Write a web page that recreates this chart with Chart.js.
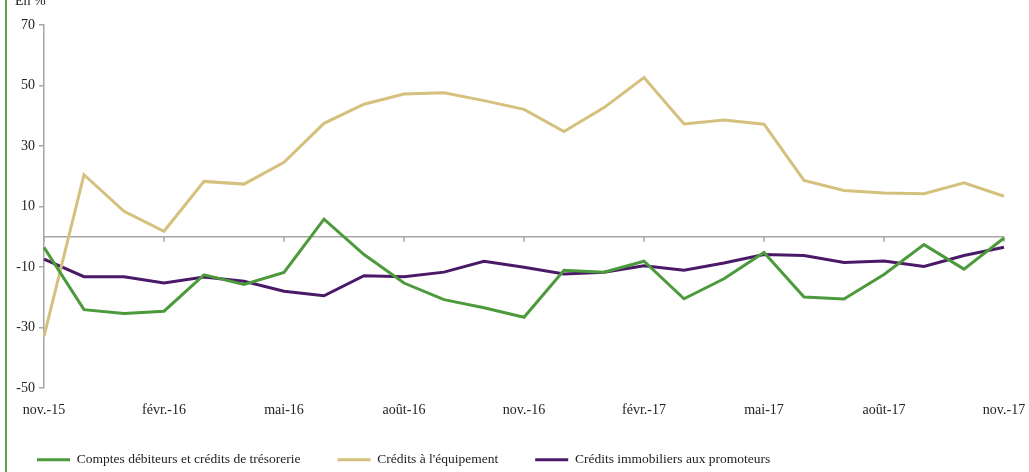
<!DOCTYPE html>
<html>
<head>
<meta charset="utf-8">
<script src="https://cdn.jsdelivr.net/npm/chart.js@4/dist/chart.umd.min.js"></script>
<style>
  html, body { margin: 0; padding: 0; background: #fff; }
  #wrap { width: 1029px; height: 472px; position: relative; }
</style>
</head>
<body>
<div id="wrap"><canvas id="lineChart" width="1029" height="472"></canvas></div>
<script>
'use strict';

var months = ['nov.-15', 'déc.-15', 'janv.-16', 'févr.-16', 'mars-16', 'avr.-16', 'mai-16', 'juin-16',
    'juil.-16', 'août-16', 'sept.-16', 'oct.-16', 'nov.-16', 'déc.-16', 'janv.-17', 'févr.-17',
    'mars-17', 'avr.-17', 'mai-17', 'juin-17', 'juil.-17', 'août-17', 'sept.-17', 'oct.-17', 'nov.-17'];

var comptesDebiteurs = [-3.5, -24.1, -25.4, -24.6, -12.6, -15.8, -11.8, 5.8, -5.9, -15.3, -20.8, -23.5, -26.6,
    -11.1, -11.7, -8.1, -20.5, -13.9, -5.2, -19.9, -20.6, -12.5, -2.6, -10.7, -0.4];

var creditsEquipement = [-32.9, 20.5, 8.4, 1.8, 18.3, 17.4, 24.6, 37.5, 43.8, 47.2, 47.6, 45.0, 42.1,
    34.8, 42.7, 52.6, 37.3, 38.6, 37.2, 18.6, 15.3, 14.5, 14.2, 17.8, 13.4];

var creditsPromoteurs = [-7.4, -13.2, -13.2, -15.3, -13.3, -14.7, -18.0, -19.5, -12.9, -13.2, -11.7, -8.1, -10.1,
    -12.3, -11.7, -9.6, -11.1, -8.7, -5.9, -6.2, -8.5, -8.0, -9.8, -6.2, -3.5];

var yTicks = [-50, -30, -10, 10, 30, 50, 70];

var FONT = "'Liberation Serif', 'Times New Roman', serif";
var AXIS_GREY = '#a6a6a6';

// zero line with month tick marks, plus the "En %" note and the page rule
var decorPlugin = {
    id: 'decor',
    beforeDatasetsDraw: function (chart) {
        var ctx = chart.ctx;
        var x = chart.scales.x;
        var y = chart.scales.y;
        var y0 = y.getPixelForValue(0);
        ctx.save();
        ctx.strokeStyle = AXIS_GREY;
        ctx.lineWidth = 1.5;
        ctx.beginPath();
        ctx.moveTo(chart.chartArea.left, y0);
        ctx.lineTo(chart.chartArea.right, y0);
        for (var i = 0; i < months.length; i += 3) {
            var px = x.getPixelForValue(i);
            ctx.moveTo(px, y0);
            ctx.lineTo(px, y0 + 5);
        }
        ctx.stroke();
        ctx.restore();
    },
    afterDraw: function (chart) {
        var ctx = chart.ctx;
        ctx.save();
        ctx.fillStyle = '#5aa54a';
        ctx.fillRect(5, 0, 2, chart.height);
        ctx.fillStyle = '#222';
        ctx.font = '14px ' + FONT;
        ctx.textBaseline = 'alphabetic';
        ctx.fillText('En %', 15, 5);
        ctx.restore();
    }
};

var lineChartCanvas = document.getElementById('lineChart').getContext('2d');

new Chart(lineChartCanvas, {
    type: 'line',
    data: {
        labels: months,
        datasets: [
            {
                label: 'Comptes débiteurs et crédits de trésorerie',
                data: comptesDebiteurs,
                borderColor: '#4c9a3c',
                backgroundColor: '#4c9a3c',
                borderWidth: 3,
                pointRadius: 0,
                tension: 0
            },
            {
                label: "Crédits à l'équipement",
                data: creditsEquipement,
                borderColor: '#d5c07d',
                backgroundColor: '#d5c07d',
                borderWidth: 3,
                pointRadius: 0,
                tension: 0
            },
            {
                label: 'Crédits immobiliers aux promoteurs',
                data: creditsPromoteurs,
                borderColor: '#4a1a68',
                backgroundColor: '#4a1a68',
                borderWidth: 3,
                pointRadius: 0,
                tension: 0
            }
        ]
    },
    options: {
        responsive: false,
        animation: false,
        devicePixelRatio: 1,
        layout: { padding: { left: 0, right: 25, top: 25, bottom: 0 } },
        plugins: {
            tooltip: { enabled: false },
            legend: {
                position: 'bottom',
                align: 'start',
                maxHeight: 56,
                labels: {
                    boxWidth: 33,
                    boxHeight: 3,
                    padding: 37,
                    color: '#222',
                    font: { family: FONT, size: 13.5 },
                    generateLabels: function (chart) {
                        return Chart.defaults.plugins.legend.labels.generateLabels(chart).map(function (l) {
                            l.lineWidth = 0;
                            return l;
                        });
                    }
                }
            }
        },
        scales: {
            x: {
                type: 'category',
                offset: false,
                grid: { display: false, drawTicks: false },
                border: { display: false },
                ticks: {
                    autoSkip: false,
                    maxRotation: 0,
                    padding: 14,
                    color: '#222',
                    font: { family: FONT, size: 14 },
                    callback: function (val, i) { return i % 3 === 0 ? months[i] : ''; }
                },
                afterFit: function (scale) {
                    scale.height = 28;
                    scale.paddingLeft = 0;
                    scale.paddingRight = 0;
                }
            },
            y: {
                min: -50,
                max: 70,
                afterBuildTicks: function (scale) {
                    scale.ticks = yTicks.map(function (v) { return { value: v }; });
                },
                grid: { drawOnChartArea: false, drawTicks: true, tickLength: 5, color: AXIS_GREY, lineWidth: 1.5 },
                border: { display: true, color: AXIS_GREY, width: 1.5 },
                ticks: {
                    padding: 4,
                    color: '#222',
                    font: { family: FONT, size: 14 }
                },
                afterFit: function (scale) { scale.width = 44; }
            }
        }
    },
    plugins: [decorPlugin]
});
</script>
</body>
</html>
